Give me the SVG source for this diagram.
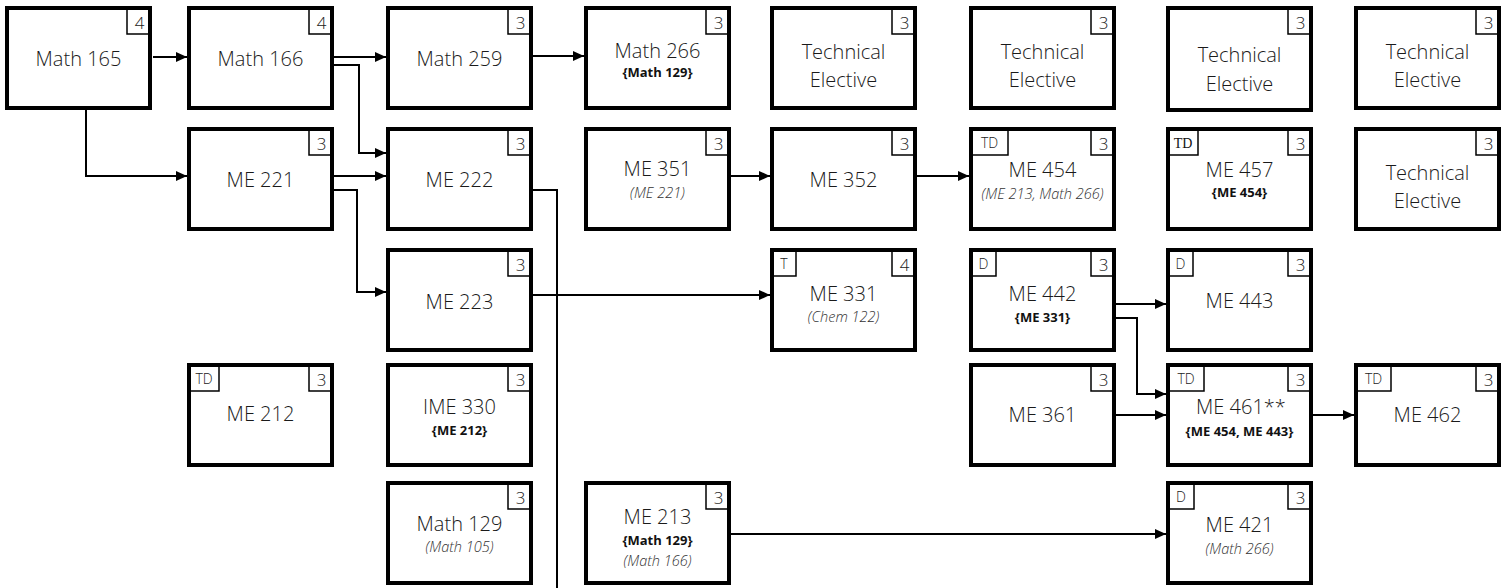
<svg xmlns="http://www.w3.org/2000/svg" width="1508" height="588" viewBox="0 0 1508 588">
<style>
.box{fill:#fff;stroke:#000;stroke-width:4}
.tag{fill:none;stroke:#000;stroke-width:1.5}
.lbl{font-family:"Open Sans","Noto Sans",sans-serif;font-weight:300;font-size:20px;fill:#1a1a1a;text-anchor:middle}
.cr{font-family:"Open Sans","Noto Sans",sans-serif;font-weight:300;font-size:17px;fill:#1a1a1a;text-anchor:middle}
.td{font-family:"Open Sans","Noto Sans",sans-serif;font-weight:300;font-size:14px;fill:#1a1a1a;text-anchor:middle}
.tds{font-family:"Liberation Serif",serif;font-weight:400;font-size:14px;fill:#111;text-anchor:middle}
.b{font-family:"Open Sans","Noto Sans",sans-serif;font-weight:700;font-size:13px;fill:#111;text-anchor:middle}
.i{font-family:"Open Sans","Noto Sans",sans-serif;font-weight:300;font-style:italic;font-size:14.5px;fill:#333;text-anchor:middle}
.con{fill:none;stroke:#000;stroke-width:2}
</style>
<defs>
<marker id="ah" markerUnits="userSpaceOnUse" markerWidth="11" markerHeight="10" refX="11" refY="5" orient="auto">
<path d="M0,0 L11,5 L0,10 z" fill="#000"/>
</marker>
</defs>
<g id="connectors">
<path class="con" d="M153,57 H187" marker-end="url(#ah)"/>
<path class="con" d="M334,57 H386" marker-end="url(#ah)"/>
<path class="con" d="M334,65 H359 V153 H386" marker-end="url(#ah)"/>
<path class="con" d="M533,56 H584" marker-end="url(#ah)"/>
<path class="con" d="M86,110 V176 H187" marker-end="url(#ah)"/>
<path class="con" d="M334,176 H386" marker-end="url(#ah)"/>
<path class="con" d="M334,190 H357 V292 H386" marker-end="url(#ah)"/>
<path class="con" d="M533,190 H557 V588"/>
<path class="con" d="M731,176 H770" marker-end="url(#ah)"/>
<path class="con" d="M917,176 H969" marker-end="url(#ah)"/>
<path class="con" d="M533,295 H770" marker-end="url(#ah)"/>
<path class="con" d="M1116,304 H1166" marker-end="url(#ah)"/>
<path class="con" d="M1116,318 H1137 V394 H1166" marker-end="url(#ah)"/>
<path class="con" d="M1116,415 H1166" marker-end="url(#ah)"/>
<path class="con" d="M1313,415 H1354" marker-end="url(#ah)"/>
<path class="con" d="M731,534 H1166" marker-end="url(#ah)"/>
</g>

<g id="math165"><rect class="box" x="7" y="8" width="143" height="100"/><path class="tag" d="M127,8 V34 H150"/><text class="cr" x="139.5" y="29">4</text><text class="lbl" x="78.5" y="66">Math 165</text></g>
<g id="math166"><rect class="box" x="189" y="8" width="143" height="100"/><path class="tag" d="M309,8 V34 H332"/><text class="cr" x="321.5" y="29">4</text><text class="lbl" x="260.5" y="66">Math 166</text></g>
<g id="math259"><rect class="box" x="388" y="8" width="143" height="100"/><path class="tag" d="M508,8 V34 H531"/><text class="cr" x="520.5" y="29">3</text><text class="lbl" x="459.5" y="66">Math 259</text></g>
<g id="math266"><rect class="box" x="586" y="8" width="143" height="100"/><path class="tag" d="M706,8 V34 H729"/><text class="cr" x="718.5" y="29">3</text><text class="lbl" x="657.5" y="58">Math 266</text><text class="b" x="657.5" y="77">{Math 129}</text></g>
<g id="te1"><rect class="box" x="772" y="8" width="143" height="100"/><path class="tag" d="M892,8 V34 H915"/><text class="cr" x="904.5" y="29">3</text><text class="lbl" x="843.5" y="59">Technical</text><text class="lbl" x="843.5" y="87">Elective</text></g>
<g id="te2"><rect class="box" x="971" y="8" width="143" height="100"/><path class="tag" d="M1091,8 V34 H1114"/><text class="cr" x="1103.5" y="29">3</text><text class="lbl" x="1042.5" y="59">Technical</text><text class="lbl" x="1042.5" y="87">Elective</text></g>
<g id="te3"><rect class="box" x="1168" y="8" width="143" height="102"/><path class="tag" d="M1288,8 V34 H1311"/><text class="cr" x="1300.5" y="29">3</text><text class="lbl" x="1239.5" y="62">Technical</text><text class="lbl" x="1239.5" y="91">Elective</text></g>
<g id="te4"><rect class="box" x="1356" y="8" width="143" height="100"/><path class="tag" d="M1476,8 V34 H1499"/><text class="cr" x="1488.5" y="29">3</text><text class="lbl" x="1427.5" y="59">Technical</text><text class="lbl" x="1427.5" y="87">Elective</text></g>

<g id="me221"><rect class="box" x="189" y="129" width="143" height="100"/><path class="tag" d="M309,129 V155 H332"/><text class="cr" x="321.5" y="150">3</text><text class="lbl" x="260.5" y="187">ME 221</text></g>
<g id="me222"><rect class="box" x="388" y="129" width="143" height="100"/><path class="tag" d="M508,129 V155 H531"/><text class="cr" x="520.5" y="150">3</text><text class="lbl" x="459.5" y="187">ME 222</text></g>
<g id="me351"><rect class="box" x="586" y="129" width="143" height="100"/><path class="tag" d="M706,129 V155 H729"/><text class="cr" x="718.5" y="150">3</text><text class="lbl" x="657.5" y="176">ME 351</text><text class="i" x="657.5" y="198">(ME 221)</text></g>
<g id="me352"><rect class="box" x="772" y="129" width="143" height="100"/><path class="tag" d="M892,129 V155 H915"/><text class="cr" x="904.5" y="150">3</text><text class="lbl" x="843.5" y="187">ME 352</text></g>
<g id="me454"><rect class="box" x="971" y="129" width="143" height="100"/><path class="tag" d="M1091,129 V155 H1114"/><path class="tag" d="M1008,129 V155 H971"/><text class="td" x="989.5" y="148">TD</text><text class="cr" x="1103.5" y="150">3</text><text class="lbl" x="1042.5" y="177">ME 454</text><text class="i" x="1042.5" y="199">(ME 213, Math 266)</text></g>
<g id="me457"><rect class="box" x="1168" y="129" width="143" height="100"/><path class="tag" d="M1288,129 V155 H1311"/><path class="tag" d="M1198,129 V155 H1168"/><text class="tds" x="1183" y="148">TD</text><text class="cr" x="1300.5" y="150">3</text><text class="lbl" x="1239.5" y="177">ME 457</text><text class="b" x="1239.5" y="197">{ME 454}</text></g>
<g id="te5"><rect class="box" x="1356" y="129" width="143" height="100"/><path class="tag" d="M1476,129 V155 H1499"/><text class="cr" x="1488.5" y="150">3</text><text class="lbl" x="1427.5" y="180">Technical</text><text class="lbl" x="1427.5" y="208">Elective</text></g>

<g id="me223"><rect class="box" x="388" y="250" width="143" height="100"/><path class="tag" d="M508,250 V276 H531"/><text class="cr" x="520.5" y="271">3</text><text class="lbl" x="459.5" y="309">ME 223</text></g>
<g id="me331"><rect class="box" x="772" y="250" width="143" height="100"/><path class="tag" d="M892,250 V276 H915"/><path class="tag" d="M796,250 V276 H772"/><text class="td" x="784" y="269">T</text><text class="cr" x="904.5" y="271">4</text><text class="lbl" x="843.5" y="301">ME 331</text><text class="i" x="843.5" y="322">(Chem 122)</text></g>
<g id="me442"><rect class="box" x="971" y="250" width="143" height="100"/><path class="tag" d="M1091,250 V276 H1114"/><path class="tag" d="M996,250 V276 H971"/><text class="td" x="983.5" y="269">D</text><text class="cr" x="1103.5" y="271">3</text><text class="lbl" x="1042.5" y="301">ME 442</text><text class="b" x="1042.5" y="322">{ME 331}</text></g>
<g id="me443"><rect class="box" x="1168" y="250" width="143" height="100"/><path class="tag" d="M1288,250 V276 H1311"/><path class="tag" d="M1193,250 V276 H1168"/><text class="td" x="1180.5" y="269">D</text><text class="cr" x="1300.5" y="271">3</text><text class="lbl" x="1239.5" y="308">ME 443</text></g>

<g id="me212"><rect class="box" x="189" y="365" width="143" height="100"/><path class="tag" d="M309,365 V391 H332"/><path class="tag" d="M219,365 V391 H189"/><text class="td" x="204" y="384">TD</text><text class="cr" x="321.5" y="386">3</text><text class="lbl" x="260.5" y="421">ME 212</text></g>
<g id="ime330"><rect class="box" x="388" y="365" width="143" height="100"/><path class="tag" d="M508,365 V391 H531"/><text class="cr" x="520.5" y="386">3</text><text class="lbl" x="459.5" y="414">IME 330</text><text class="b" x="459.5" y="435">{ME 212}</text></g>
<g id="me361"><rect class="box" x="971" y="365" width="143" height="100"/><path class="tag" d="M1091,365 V391 H1114"/><text class="cr" x="1103.5" y="386">3</text><text class="lbl" x="1042.5" y="422">ME 361</text></g>
<g id="me461"><rect class="box" x="1168" y="365" width="143" height="100"/><path class="tag" d="M1288,365 V391 H1311"/><path class="tag" d="M1204,365 V391 H1168"/><text class="td" x="1186" y="384">TD</text><text class="cr" x="1300.5" y="386">3</text><text class="lbl" x="1241" y="414">ME 461**</text><text class="b" x="1239.5" y="436">{ME 454, ME 443}</text></g>
<g id="me462"><rect class="box" x="1356" y="365" width="143" height="100"/><path class="tag" d="M1476,365 V391 H1499"/><path class="tag" d="M1391,365 V391 H1356"/><text class="td" x="1373.5" y="384">TD</text><text class="cr" x="1488.5" y="386">3</text><text class="lbl" x="1427.5" y="422">ME 462</text></g>

<g id="math129"><rect class="box" x="388" y="483" width="143" height="100"/><path class="tag" d="M508,483 V509 H531"/><text class="cr" x="520.5" y="504">3</text><text class="lbl" x="459.5" y="531">Math 129</text><text class="i" x="459.5" y="552">(Math 105)</text></g>
<g id="me213"><rect class="box" x="586" y="483" width="143" height="100"/><path class="tag" d="M706,483 V509 H729"/><text class="cr" x="718.5" y="504">3</text><text class="lbl" x="657.5" y="524">ME 213</text><text class="b" x="657.5" y="545">{Math 129}</text><text class="i" x="657.5" y="566">(Math 166)</text></g>
<g id="me421"><rect class="box" x="1168" y="483" width="143" height="100"/><path class="tag" d="M1288,483 V509 H1311"/><path class="tag" d="M1194,483 V509 H1168"/><text class="td" x="1181" y="502">D</text><text class="cr" x="1300.5" y="504">3</text><text class="lbl" x="1239.5" y="532">ME 421</text><text class="i" x="1239.5" y="554">(Math 266)</text></g>
</svg>
